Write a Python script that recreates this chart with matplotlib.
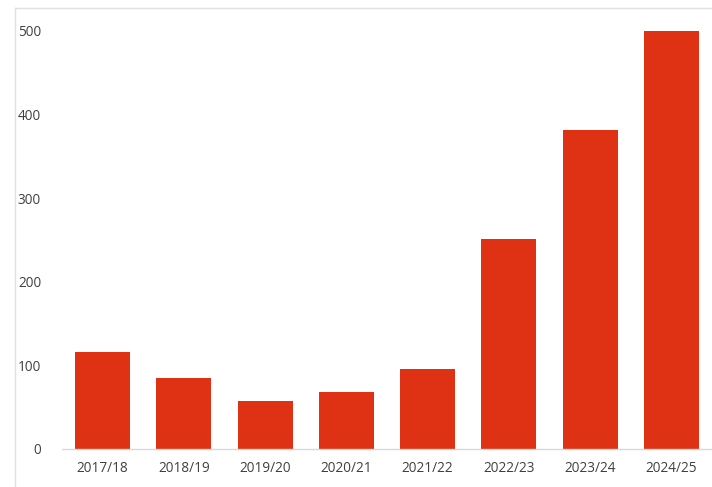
import matplotlib
matplotlib.use("Agg")
import matplotlib.pyplot as plt
from matplotlib.lines import Line2D

categories = ["2017/18", "2018/19", "2019/20", "2020/21", "2021/22", "2022/23", "2023/24", "2024/25"]
values = [116, 85, 57, 68, 96, 251, 382, 500]
yticks = [0, 100, 200, 300, 400, 500]

W, H = 712, 487
fig = plt.figure(figsize=(W / 100, H / 100), dpi=100)
plt.rcParams['font.family'] = ['Open Sans', 'DejaVu Sans']

ax = fig.add_axes([62 / W, (H - 449) / H, (W - 62) / W, (449 - 31) / H])
x = list(range(len(categories)))
ax.bar(x, values, width=0.675, color="#DF3113", zorder=2)
ax.set_xlim(-0.5, len(categories) - 0.5)
ax.set_ylim(0, 500)
ax.set_xticks(x)
ax.set_xticklabels(categories)
ax.set_yticks(yticks)
ax.tick_params(axis="both", length=0, labelsize=9.8, colors="#404040")
ax.tick_params(axis="y", pad=15)
ax.tick_params(axis="x", pad=9)
for s in ["top", "right", "left"]:
    ax.spines[s].set_visible(False)
ax.spines["bottom"].set_color("#d9d9d9")
ax.spines["bottom"].set_linewidth(1.0)

# outer chart frame (light grey)
fig.add_artist(Line2D([15 / W, 1.0], [1 - 8 / H, 1 - 8 / H], color="#e0e0e0", lw=1.0, transform=fig.transFigure))
fig.add_artist(Line2D([15 / W, 15 / W], [0, 1 - 8 / H], color="#e0e0e0", lw=1.0, transform=fig.transFigure))

fig.savefig("out.png", dpi=100)
